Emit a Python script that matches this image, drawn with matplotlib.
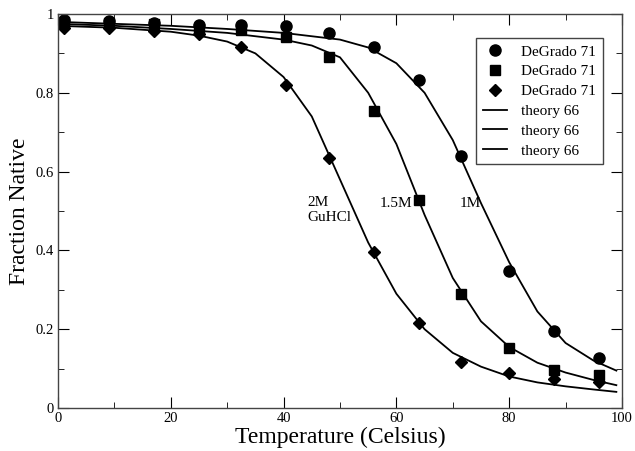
import matplotlib
matplotlib.use("Agg")
import matplotlib.pyplot as plt
from matplotlib.ticker import MultipleLocator, FormatStrFormatter

plt.rcParams['font.family'] = ['Liberation Serif', 'DejaVu Serif']

# measured data (DeGrado)
temp = [1, 9, 17, 25, 32.5, 40.5, 48, 56, 64, 71.5, 80, 88, 96]
frac_1M = [0.985, 0.983, 0.976, 0.972, 0.972, 0.970, 0.952, 0.916, 0.832, 0.640, 0.348, 0.195, 0.127]
frac_15M = [0.980, 0.978, 0.975, 0.962, 0.960, 0.942, 0.890, 0.754, 0.528, 0.289, 0.152, 0.096, 0.084]
frac_2M = [0.965, 0.965, 0.958, 0.948, 0.916, 0.820, 0.635, 0.396, 0.216, 0.117, 0.088, 0.073, 0.066]

# theory curves
t_1M = [0, 10, 20, 30, 40, 50, 55, 60, 65, 70, 75, 80, 85, 90, 95, 99]
th_1M = [0.98, 0.975, 0.97, 0.962, 0.952, 0.935, 0.915, 0.875, 0.80, 0.68, 0.52, 0.37, 0.245, 0.165, 0.12, 0.095]
t_15M = [0, 10, 20, 30, 40, 45, 50, 55, 60, 65, 70, 75, 80, 85, 90, 95, 99]
th_15M = [0.975, 0.97, 0.962, 0.952, 0.935, 0.92, 0.89, 0.80, 0.67, 0.49, 0.33, 0.22, 0.155, 0.115, 0.09, 0.071, 0.058]
t_2M = [0, 10, 20, 25, 30, 35, 40, 45, 50, 55, 60, 65, 70, 75, 80, 85, 90, 95, 99]
th_2M = [0.97, 0.965, 0.955, 0.945, 0.93, 0.90, 0.84, 0.74, 0.58, 0.42, 0.29, 0.20, 0.14, 0.105, 0.08, 0.065, 0.055, 0.047, 0.041]

fig = plt.figure(figsize=(6.35, 4.51), dpi=100)
ax = fig.add_axes([0.0913, 0.0953, 0.8882, 0.8737])

m1, = ax.plot(temp, frac_1M, 'ko', ms=8, ls='none', label='DeGrado 71')
m2, = ax.plot(temp, frac_15M, 'ks', ms=7, ls='none', label='DeGrado 71')
m3, = ax.plot(temp, frac_2M, 'kD', ms=6, ls='none', label='DeGrado 71')
l1, = ax.plot(t_1M, th_1M, 'k-', lw=1.3, label='theory 66')
l2, = ax.plot(t_15M, th_15M, 'k-', lw=1.3, label='theory 66')
l3, = ax.plot(t_2M, th_2M, 'k-', lw=1.3, label='theory 66')

# concentration labels
ax.text(44.3, 0.512, '2M', fontsize=11)
ax.text(44.3, 0.474, 'GuHCl', fontsize=11)
ax.text(57.1, 0.51, '1.5M', fontsize=11)
ax.text(71.3, 0.51, '1M', fontsize=11)

ax.set_xlim(0, 100)
ax.set_ylim(0, 1)
ax.xaxis.set_major_locator(MultipleLocator(20))
ax.xaxis.set_minor_locator(MultipleLocator(10))
ax.yaxis.set_major_locator(MultipleLocator(0.2))
ax.yaxis.set_minor_locator(MultipleLocator(0.1))
ax.xaxis.set_major_formatter(FormatStrFormatter('%g'))
ax.yaxis.set_major_formatter(FormatStrFormatter('%g'))
ax.tick_params(which='both', direction='in', top=True, right=True, labelsize=10.5, pad=3)
ax.tick_params(which='major', length=8)
ax.tick_params(which='minor', length=4)
for s in ax.spines.values():
    s.set_linewidth(1.0)
    s.set_color('#444444')

ax.set_xlabel('Temperature (Celsius)', fontsize=17, labelpad=1)
ax.set_ylabel('Fraction Native', fontsize=17, labelpad=4)

ax.legend(handles=[m1, m2, m3, l1, l2, l3], loc='upper right',
          bbox_to_anchor=(0.966, 0.939), borderaxespad=0, fontsize=11,
          fancybox=False, edgecolor='#444444', framealpha=1,
          handlelength=1.6, labelspacing=0.4, borderpad=0.45,
          handletextpad=0.9)

fig.savefig('out.png', dpi=100)
